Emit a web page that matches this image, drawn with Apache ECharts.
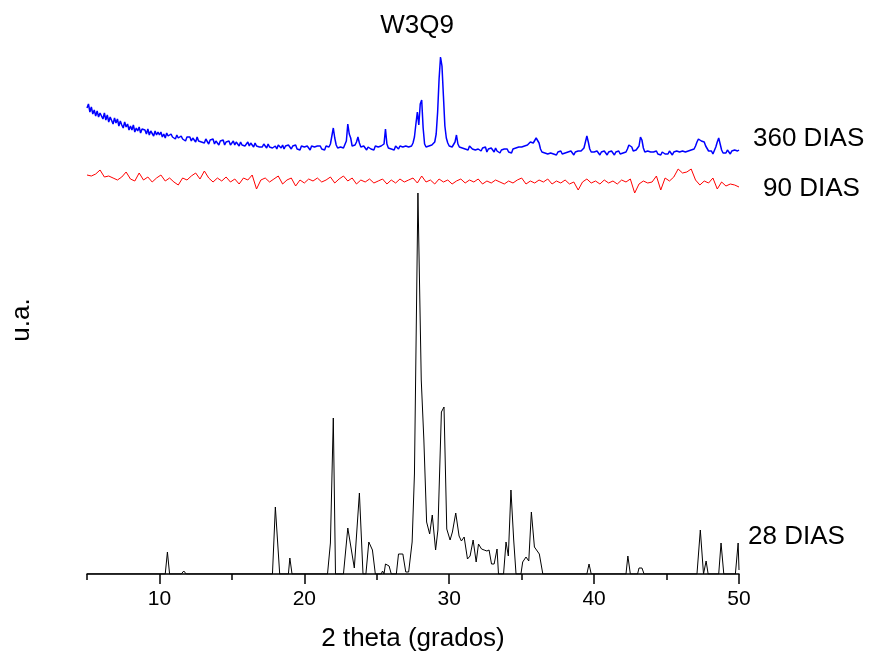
<!DOCTYPE html>
<html>
<head>
<meta charset="utf-8">
<script src="https://cdn.jsdelivr.net/npm/echarts@6/dist/echarts.min.js"></script>
<style>
html,body{margin:0;padding:0;background:#fff;}
#chart{width:870px;height:658px;}
</style>
</head>
<body>
<div id="chart"></div>
<script>
// ---------- DATA ----------
const titleText = 'W3Q9';
const xAxisName = '2 theta (grados)';
const yAxisName = 'u.a.';
const seriesNames = ['360 DIAS', '90 DIAS', '28 DIAS'];
const majorTicks = [10, 20, 30, 40, 50];
const minorTicks = [5, 15, 25, 35, 45];

// 360 DIAS: uniform scan, 5.0 .. 50.0 step 0.1
const scan360Start = 5;
const scan360Step = 0.1;
const int360 = [
466,470,462,467,460,464,458,463,457,461,
458,455,461,454,459,452,457,455,450,456,
451,455,448,453,449,446,452,447,450,444,
448,444,449,442,446,443,447,441,445,443,
444,440,445,439,443,441,438,443,439,442,
439,442,437,440,436,441,438,436,440,437,
438,435,439,436,434,438,435,437,433,437,
435,437,433,436,434,432,437,433,435,432,
434,431,435,433,430,434,432,435,430,433,
432,429,433,431,434,429,432,430,433,429,
431,433,429,432,430,428,432,429,431,428,
430,432,428,431,429,427,431,428,430,427,
429,427,430,428,426,430,427,429,426,428,
428,425,429,427,426,429,425,428,426,429,
427,425,428,426,429,425,427,424,428,426,
427,425,428,426,424,428,426,427,425,428,
426,428,425,427,424,428,426,427,430,438,
446,436,429,426,424,427,425,426,428,433,
450,440,436,428,427,429,432,437,431,427,
425,428,426,424,427,429,425,427,424,428,
426,427,425,428,426,430,445,430,426,428,
425,427,424,428,426,425,428,426,427,425,
428,426,427,425,428,431,437,450,462,449,
470,474,446,430,427,425,428,426,429,431,
432,440,462,495,517,508,478,448,436,431,
428,430,427,429,432,439,430,427,429,426,
428,425,427,424,428,429,425,427,424,426,
425,427,423,426,424,427,422,425,423,426,
424,422,426,423,425,421,424,422,425,423,
425,422,424,421,425,423,426,424,427,425,
427,425,428,426,429,430,432,430,431,433,
436,438,431,425,422,424,421,423,420,422,
421,423,420,422,419,422,421,423,420,422,
421,419,422,420,423,421,419,422,420,423,
421,423,422,426,432,438,432,425,422,420,
422,420,423,421,419,422,420,423,421,419,
422,420,423,421,419,422,421,423,420,422,
421,423,422,425,429,430,427,423,421,424,
423,428,437,434,426,422,420,423,421,422,
420,422,421,423,420,422,419,422,421,420,
422,420,423,421,419,422,420,423,421,422,
420,423,421,422,420,423,421,424,422,425,
428,432,435,437,433,435,432,428,426,423,
421,423,420,422,427,432,436,430,424,421,
423,421,424,422,420,423,421,424,422,423,
424
];

// 90 DIAS: uniform scan, 5.0 .. 50.0 step 0.3
const scan90Start = 5;
const scan90Step = 0.3;
const int90 = [
399,398,400,404,397,398,396,394,397,402,
395,393,401,394,397,392,396,399,393,396,
392,389,396,394,398,401,395,403,396,392,
396,393,397,392,395,390,396,394,399,385,
394,396,392,395,398,390,394,396,388,394,
391,395,393,396,392,394,397,391,395,398,
393,396,390,394,392,395,391,393,395,390,
394,391,395,392,394,396,391,398,392,394,
390,395,392,394,390,393,395,391,394,392,
395,390,393,391,394,392,390,393,391,394,
396,390,393,391,394,392,395,390,393,391,
394,390,392,384,392,395,391,393,390,394,
391,393,390,394,392,395,381,390,393,391,
392,398,384,396,393,397,405,401,402,405,
394,389,393,391,396,385,392,388,390,389,
387
];

// 28 DIAS: peak list
const ang28 = [
5.0,10.4,10.55,10.7,11.5,11.68,11.85,15.7,15.75,15.8,17.8,18.0,18.3,18.9,19.0,19.15,19.5,19.6,19.7,
21.6,21.8,22.0,22.15,22.7,23.0,23.45,23.8,24.05,24.25,24.45,24.7,24.9,25.3,25.4,25.5,25.6,25.85,26.0,
26.35,26.5,26.8,27.0,27.2,27.44,27.6,27.84,28.07,28.25,28.44,28.65,28.83,29.06,29.22,29.46,29.64,29.83,
30.06,30.22,30.45,30.68,30.84,31.03,31.26,31.44,31.65,31.86,32.02,32.23,32.41,32.6,32.75,32.92,33.1,
33.3,33.4,33.75,33.92,34.08,34.26,34.45,34.61,34.95,35.07,35.3,35.49,35.67,35.88,36.22,36.46,
39.5,39.65,39.8,42.2,42.33,42.5,42.6,42.7,43.0,43.1,43.3,43.45,47.1,47.33,47.55,47.73,47.87,
48.6,48.76,48.95,49.75,49.94,50.0
];
const int28 = [
0,0,22,0,0,3,0,0,1,0,0,67,0,0,16,0,0,2,0,
0,31,156,0,0,46,6,81,0,0,32,24,0,0,3,0,10,8,0,
0,20,20,2,2,32,100,381,194,134,52,40,59,24,44,162,167,45,
34,42,61,38,33,37,15,18,34,12,30,25,24,23,24,10,10,
25,0,0,32,18,84,34,0,0,12,17,13,62,27,20,0,
0,10,0,0,18,0,2,0,0,6,6,0,0,44,0,13,0,
0,31,0,0,31,4
];

// ---------- BUILD ----------
const data360 = int360.map((v, i) => [scan360Start + i * scan360Step, v]);
const data90 = int90.map((v, i) => [scan90Start + i * scan90Step, v]);
const data28 = int28.map((v, i) => [ang28[i], v]);

const FONT = '"Liberation Sans", Arial, sans-serif';
const chart = echarts.init(document.getElementById('chart'), null, {renderer: 'canvas'});

chart.setOption({
  animation: false,
  backgroundColor: '#ffffff',
  title: {
    text: titleText,
    left: 412,
    textAlign: 'center',
    top: 8,
    textStyle: {fontFamily: FONT, fontSize: 26, fontWeight: 'normal', color: '#000'}
  },
  grid: {left: 87, right: 131, top: 40, bottom: 84, containLabel: false},
  xAxis: [
    {
      type: 'value', min: 5, max: 50, position: 'bottom',
      name: xAxisName, nameLocation: 'middle', nameGap: 52,
      nameTextStyle: {fontFamily: FONT, fontSize: 26, color: '#000'},
      axisLine: {show: true, onZero: false, lineStyle: {color: '#000', width: 1.5}},
      axisTick: {show: true, length: 10, customValues: majorTicks, lineStyle: {color: '#000', width: 1.5}},
      axisLabel: {show: true, customValues: majorTicks, margin: 15, fontFamily: FONT, fontSize: 21, color: '#000'},
      splitLine: {show: false}
    },
    {
      type: 'value', min: 5, max: 50, position: 'bottom', gridIndex: 0,
      axisLine: {show: false, onZero: false},
      axisTick: {show: true, length: 6, customValues: minorTicks, lineStyle: {color: '#000', width: 1.5}},
      axisLabel: {show: false},
      splitLine: {show: false}
    }
  ],
  yAxis: {
    type: 'value', min: 0, max: 534, show: false
  },
  graphic: [
    {type: 'text', x: 22, y: 320, rotation: Math.PI / 2,
     style: {text: yAxisName, fontFamily: FONT, fontSize: 26, fill: '#000', align: 'center', verticalAlign: 'middle'}},
    {type: 'text', x: 753, y: 139,
     style: {text: seriesNames[0], fontFamily: FONT, fontSize: 26, fill: '#000', align: 'left', verticalAlign: 'middle'}},
    {type: 'text', x: 763, y: 189,
     style: {text: seriesNames[1], fontFamily: FONT, fontSize: 26, fill: '#000', align: 'left', verticalAlign: 'middle'}},
    {type: 'text', x: 748, y: 537,
     style: {text: seriesNames[2], fontFamily: FONT, fontSize: 26, fill: '#000', align: 'left', verticalAlign: 'middle'}}
  ],
  series: [
    {name: seriesNames[2], type: 'line', data: data28, showSymbol: false, symbol: 'none',
     lineStyle: {color: '#000000', width: 1}, z: 2},
    {name: seriesNames[1], type: 'line', data: data90, showSymbol: false, symbol: 'none',
     lineStyle: {color: '#ff0000', width: 1}, z: 3},
    {name: seriesNames[0], type: 'line', data: data360, showSymbol: false, symbol: 'none',
     lineStyle: {color: '#0000ff', width: 1.5}, z: 4}
  ]
});
</script>
</body>
</html>
